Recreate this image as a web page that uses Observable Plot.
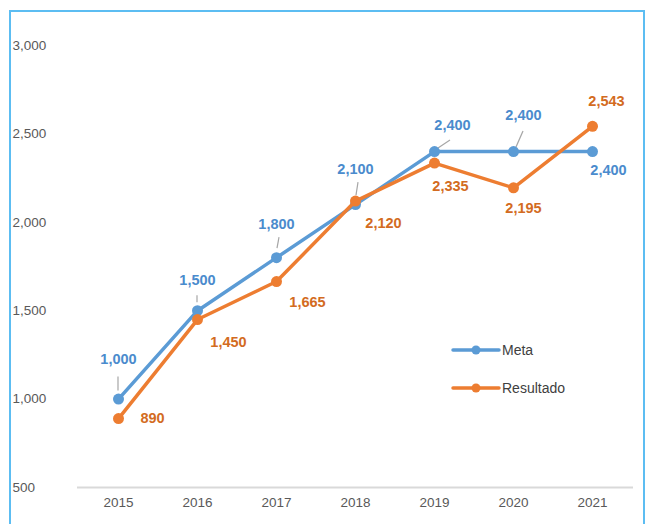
<!DOCTYPE html>
<html>
<head>
<meta charset="utf-8">
<script src="https://cdn.jsdelivr.net/npm/d3@7"></script>
<script src="https://cdn.jsdelivr.net/npm/@observablehq/plot@0.6"></script>
<style>
  html, body { margin: 0; padding: 0; background: #fff; }
  #wrap { position: relative; width: 649px; height: 524px; overflow: hidden; font-family: "Liberation Sans", Arial, sans-serif; }
  #frame { position: absolute; left: 9px; top: 10px; width: 636px; height: 540px; border: 2px solid #5cbdf2; pointer-events: none; box-sizing: border-box; }
  #legend { position: absolute; left: 451px; top: 340px; font-size: 14px; color: #404040; }
  #legend .row { display: flex; align-items: center; height: 20px; margin-bottom: 18px; }
  #legend svg { margin-right: 1px; }
</style>
</head>
<body>
<div id="wrap">
  <div id="chart"></div>
  <div id="frame"></div>
  <div id="legend"></div>
</div>
<script>
const years = ["2015", "2016", "2017", "2018", "2019", "2020", "2021"];
const metaValues = [1000, 1500, 1800, 2100, 2400, 2400, 2400];
const resultadoValues = [890, 1450, 1665, 2120, 2335, 2195, 2543];
const seriesNames = ["Meta", "Resultado"];
const yTicks = [500, 1000, 1500, 2000, 2500, 3000];

const blue = "#5b9bd5";
const orange = "#ed7d31";
const blueText = "#4a8bcd";
const orangeText = "#d36b21";
const fmt = d3.format(",");

const meta = years.map((y, i) => ({year: y, value: metaValues[i]}));
const resultado = years.map((y, i) => ({year: y, value: resultadoValues[i]}));

// label placement (pixel offsets) for each data label
const metaOff = [[0,-40],[0,-30],[0,-33],[0,-35],[18,-26],[10,-36],[16,19]];
const resOff = [[34,0],[31,23],[31,21],[28,22],[16,23],[10,21],[14,-25]];
// leader segments (pixel offsets from dot: start, end)
const leaderOff = [[[0,-8],[0,-22]],[[0,-8],[0,-15]],[[1,-9],[3,-20]],[[1,-9],[3,-22]],[[4,-3],[16,-11]],[[3,-4],[10,-20]]];

const labelFont = {fontSize: 14.5, fontWeight: 600, fontFamily: "Liberation Sans, Arial, sans-serif"};
const labelMarks = [];
meta.forEach((d, i) => labelMarks.push(Plot.text([d], {x: "year", y: "value", text: d => fmt(d.value), dx: metaOff[i][0], dy: metaOff[i][1], fill: blueText, ...labelFont})));
resultado.forEach((d, i) => labelMarks.push(Plot.text([d], {x: "year", y: "value", text: d => fmt(d.value), dx: resOff[i][0], dy: resOff[i][1], fill: orangeText, ...labelFont})));

const leaders = (index, scales) => {
  const g = d3.create("svg:g").attr("stroke", "#a6a6a6").attr("stroke-width", 1.2);
  leaderOff.forEach((o, i) => {
    const x = scales.x(meta[i].year), y = scales.y(meta[i].value);
    g.append("line").attr("x1", x + o[0][0]).attr("y1", y + o[0][1]).attr("x2", x + o[1][0]).attr("y2", y + o[1][1]);
  });
  return g.node();
};

const plot = Plot.plot({
  width: 649,
  height: 524,
  marginLeft: 77,
  marginRight: 16,
  marginTop: 45,
  marginBottom: 37,
  style: {fontFamily: "Liberation Sans, Arial, sans-serif", background: "transparent"},
  x: {type: "point", domain: years, padding: 0.5, label: null},
  y: {domain: [500, 3000], label: null},
  marks: [
    Plot.ruleY([500], {stroke: "#d9d9d9", strokeWidth: 2}),
    Plot.axisY({ticks: yTicks, tickFormat: fmt, tickSize: 0, tickPadding: 0, textAnchor: "start", dx: -65, fontSize: 13.5, fill: "#595959", label: null}),
    Plot.axisX({tickSize: 0, tickPadding: 10, fontSize: 13.5, fill: "#595959", label: null}),
    leaders,
    Plot.line(meta, {x: "year", y: "value", stroke: blue, strokeWidth: 3.5}),
    Plot.dot(meta, {x: "year", y: "value", fill: blue, r: 5.5}),
    Plot.line(resultado, {x: "year", y: "value", stroke: orange, strokeWidth: 3.5}),
    Plot.dot(resultado, {x: "year", y: "value", fill: orange, r: 5.5}),
    ...labelMarks
  ]
});
document.getElementById("chart").appendChild(plot);

const legend = d3.select("#legend");
[[seriesNames[0], blue], [seriesNames[1], orange]].forEach(([name, c]) => {
  const row = legend.append("div").attr("class", "row");
  const s = row.append("svg").attr("width", 50).attr("height", 12);
  s.append("line").attr("x1", 2).attr("x2", 48).attr("y1", 6).attr("y2", 6).attr("stroke", c).attr("stroke-width", 3.5).attr("stroke-linecap", "round");
  s.append("circle").attr("cx", 25).attr("cy", 6).attr("r", 4.5).attr("fill", c);
  row.append("span").text(name);
});
</script>
</body>
</html>
